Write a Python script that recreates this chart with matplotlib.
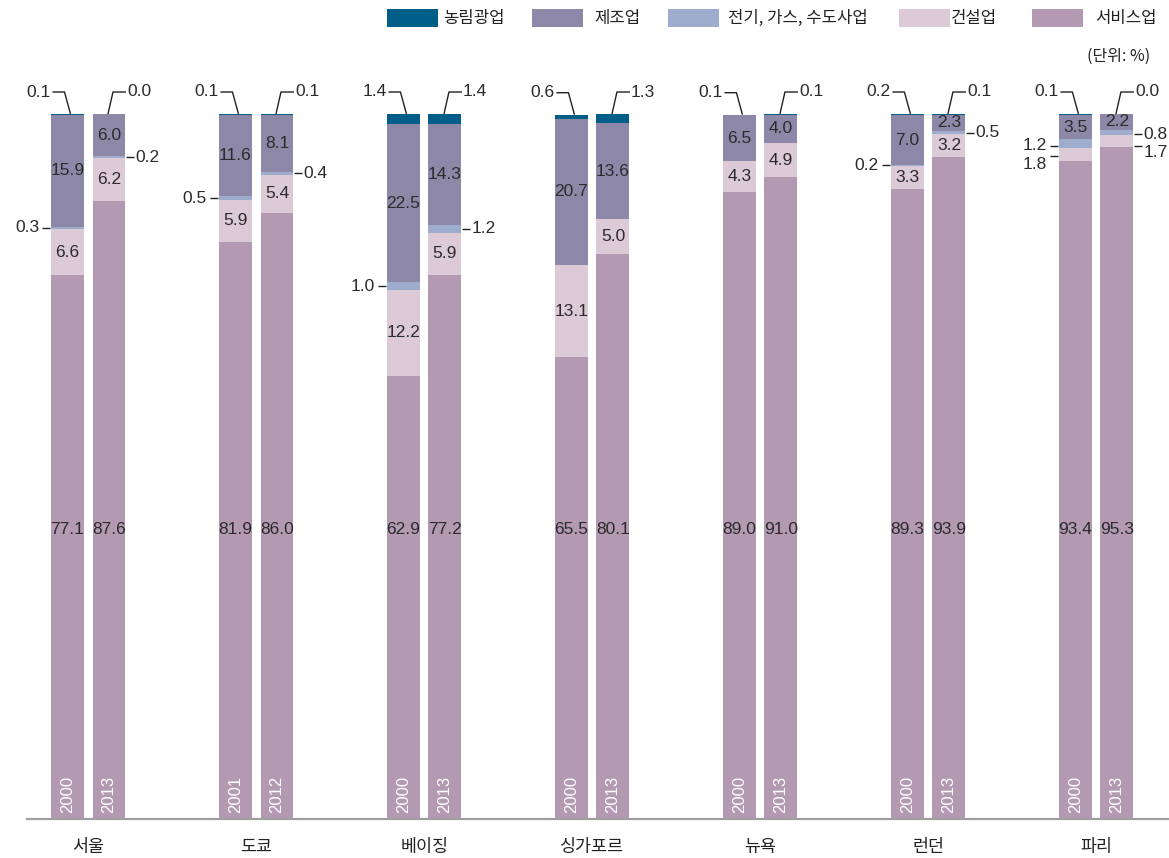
import matplotlib
matplotlib.use("Agg")
import matplotlib.pyplot as plt
from matplotlib.patches import Rectangle
import numpy as np

# ---- data -------------------------------------------------------------
CITIES = ["서울", "도쿄", "베이징", "싱가포르", "뉴욕", "런던", "파리"]
YEARS = [["2000", "2013"], ["2001", "2012"], ["2000", "2013"], ["2000", "2013"],
         ["2000", "2013"], ["2000", "2013"], ["2000", "2013"]]
SECTORS = ["농림광업", "제조업", "전기, 가스, 수도사업", "건설업", "서비스업"]

# one row per bar (city, year), in the order above
SERVICE      = [77.1, 87.6, 81.9, 86.0, 62.9, 77.2, 65.5, 80.1, 89.0, 91.0, 89.3, 93.9, 93.4, 95.3]
CONSTRUCTION = [6.6, 6.2, 5.9, 5.4, 12.2, 5.9, 13.1, 5.0, 4.3, 4.9, 3.3, 3.2, 1.8, 1.7]
UTILITIES    = [0.3, 0.2, 0.5, 0.4, 1.0, 1.2, 0.0, 0.0, 0.0, 0.0, 0.2, 0.5, 1.2, 0.8]
MANUFACTURE  = [15.9, 6.0, 11.6, 8.1, 22.5, 14.3, 20.7, 13.6, 6.5, 4.0, 7.0, 2.3, 3.5, 2.2]
AGRICULTURE  = [0.1, 0.0, 0.1, 0.1, 1.4, 1.4, 0.6, 1.3, 0.1, 0.1, 0.2, 0.1, 0.1, 0.0]

COLORS = {"농림광업": "#005e88", "제조업": "#8e88a8", "전기, 가스, 수도사업": "#9eadcd",
          "건설업": "#dccad6", "서비스업": "#b399b2"}

NUM_FONT = ["Liberation Sans", "DejaVu Sans"]
NUM_SIZE = 12.5
KR_FONT = ["Noto Sans CJK KR", "DejaVu Sans"]
TXT = "#2b2b2b"

W, H = 1169, 858
fig = plt.figure(figsize=(W / 100, H / 100), dpi=100)
ax = fig.add_axes([27 / W, 39 / H, 1 - 27 / W, (819 - 114) / H])
ax.set_xlim(-0.366, 6.432)
ax.set_ylim(0, 100)

# pixel -> data conversion
kx = (6.432 + 0.366) / (W - 27)
ky = 100 / (819 - 114)

bw = 0.196
off = 0.122
xs = []
for i in range(len(CITIES)):
    xs += [i - off - 0.003, i + off]
xs = np.array(xs)

stack = [("서비스업", SERVICE), ("건설업", CONSTRUCTION), ("전기, 가스, 수도사업", UTILITIES),
         ("제조업", MANUFACTURE), ("농림광업", AGRICULTURE)]
bottom = np.zeros(len(xs))
bounds = {}
for name, vals in stack:
    vals = np.array(vals)
    ax.bar(xs, vals, bw, bottom=bottom, color=COLORS[name], linewidth=0, zorder=1)
    bounds[name] = (bottom.copy(), bottom + vals)
    bottom = bottom + vals
totals = bottom

# ---- value labels inside segments --------------------------------------
num_kw = dict(family=NUM_FONT, fontsize=NUM_SIZE, color=TXT, ha="center", va="center", zorder=3)
for j, x in enumerate(xs):
    ax.text(x, 41, f"{SERVICE[j]:.1f}", **num_kw)
    lo, hi = bounds["제조업"]
    ax.text(x, (lo[j] + hi[j]) / 2, f"{MANUFACTURE[j]:.1f}", **num_kw)
    if CONSTRUCTION[j] >= 3:
        lo, hi = bounds["건설업"]
        ax.text(x, (lo[j] + hi[j]) / 2, f"{CONSTRUCTION[j]:.1f}", **num_kw)

# ---- top leader callouts (agriculture) ---------------------------------
line_kw = dict(color="#222222", lw=1.0, solid_capstyle="butt", zorder=3, clip_on=False)
for j, x in enumerate(xs):
    top = totals[j]
    yk = top + 22 * ky
    if j % 2 == 0:
        px = [x + 3 * kx, x - 3 * kx, x - 15 * kx]
        ax.plot(px, [top, yk, yk], **line_kw)
        ax.text(x - 17 * kx, yk, f"{AGRICULTURE[j]:.1f}", family=NUM_FONT, fontsize=NUM_SIZE,
                color=TXT, ha="right", va="center")
    else:
        px = [x - 1 * kx, x + 4 * kx, x + 17 * kx]
        ax.plot(px, [top, yk, yk], **line_kw)
        ax.text(x + 18 * kx, yk, f"{AGRICULTURE[j]:.1f}", family=NUM_FONT, fontsize=NUM_SIZE,
                color=TXT, ha="left", va="center")


# ---- side callouts for thin segments -----------------------------------
def side(j, name, value, dy_line=0, dy_text=0):
    lo, hi = bounds[name]
    y = (lo[j] + hi[j]) / 2 - dy_line * ky
    x = xs[j]
    if j % 2 == 0:
        edge = x - bw / 2
        ax.plot([edge - 9 * kx, edge - 1 * kx], [y, y], **line_kw)
        ax.text(edge - 12 * kx, y - dy_text * ky, f"{value:.1f}", family=NUM_FONT,
                fontsize=NUM_SIZE, color=TXT, ha="right", va="center")
    else:
        edge = x + bw / 2
        ax.plot([edge + 1 * kx, edge + 9 * kx], [y, y], **line_kw)
        ax.text(edge + 10 * kx, y - dy_text * ky, f"{value:.1f}", family=NUM_FONT,
                fontsize=NUM_SIZE, color=TXT, ha="left", va="center")


for j in range(len(xs)):
    if UTILITIES[j] > 0:
        side(j, "전기, 가스, 수도사업", UTILITIES[j], dy_line=2 if j >= 12 else 0)
    if CONSTRUCTION[j] < 3:
        side(j, "건설업", CONSTRUCTION[j], dy_line=2 if j % 2 == 0 else 5,
             dy_text=8 if j % 2 == 0 else 6)

# ---- year labels inside bars, city labels below -----------------------
for i, city in enumerate(CITIES):
    for k in range(2):
        ax.text(xs[2 * i + k], 6 * ky, YEARS[i][k], rotation=90, family=["Liberation Sans"],
                fontsize=12, color="white", ha="center", va="bottom", zorder=3)
    ax.text(i, -28 * ky, city, family=KR_FONT, fontsize=12.5, fontweight="medium",
            color="#222222", ha="center", va="center", clip_on=False)

for s in ["top", "left", "right"]:
    ax.spines[s].set_visible(False)
ax.spines["bottom"].set_color("#a0a0a0")
ax.spines["bottom"].set_linewidth(1.6)
ax.set_xticks([])
ax.set_yticks([])
ax.patch.set_alpha(0)

# ---- legend -------------------------------------------------------------
leg_x = [387, 532, 668, 899, 1032]
txt_x = [443, 594, 728, 951, 1095]
for name, lx, tx in zip(SECTORS, leg_x, txt_x):
    fig.add_artist(Rectangle((lx / W, 1 - 27 / H), 51 / W, 18 / H,
                             transform=fig.transFigure, color=COLORS[name], lw=0))
    fig.text(tx / W, 1 - 18 / H, name, family=KR_FONT, fontsize=12, fontweight="medium",
             color="#222222", ha="left", va="center")
fig.text(1150 / W, 1 - 56 / H, "(단위: %)", family=KR_FONT, fontsize=11.5,
         fontweight="medium", color="#222222", ha="right", va="center")

fig.savefig("out.png", dpi=100)
